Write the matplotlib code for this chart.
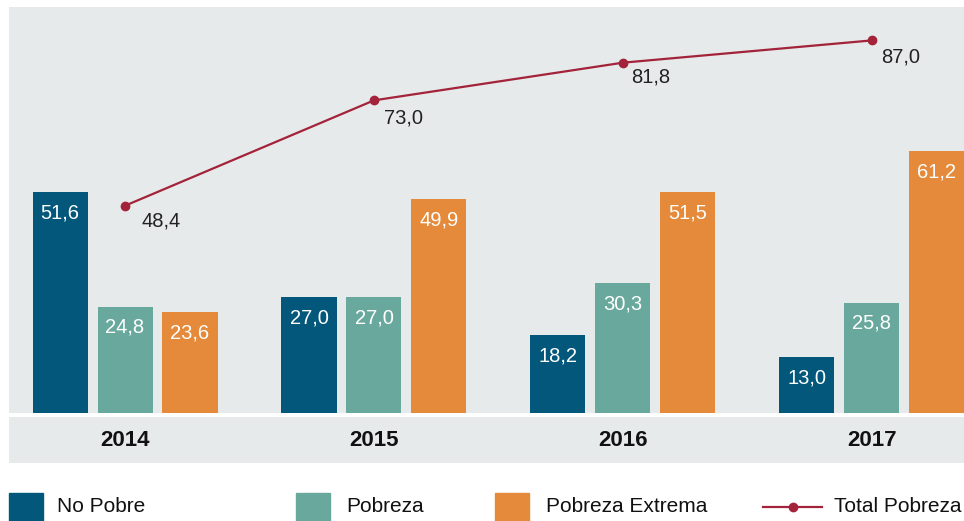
import numpy as np
import matplotlib.pyplot as plt
from matplotlib.patches import Rectangle
from matplotlib.lines import Line2D

plt.rcParams['font.family'] = ['Liberation Sans', 'DejaVu Sans']

years = ['2014', '2015', '2016', '2017']
no_pobre = [51.6, 27.0, 18.2, 13.0]
pobreza = [24.8, 27.0, 30.3, 25.8]
pobreza_extrema = [23.6, 49.9, 51.5, 61.2]
total_pobreza = [48.4, 73.0, 81.8, 87.0]

series_names = ['No Pobre', 'Pobreza', 'Pobreza Extrema', 'Total Pobreza']
bar_colors = ['#03577a', '#69a99d', '#e48a3a']
line_color = '#a3233a'
bg = '#e7eaeb'

def fmt(v):
    return f'{v:.1f}'.replace('.', ',')

fig = plt.figure(figsize=(9.64, 5.21), dpi=100)
ax = fig.add_axes([9 / 964, 108 / 521, 955 / 964, 406 / 521])
ax.set_facecolor(bg)

x = np.arange(len(years))
width = 0.221
step = 0.261
for i, (vals, col) in enumerate(zip([no_pobre, pobreza, pobreza_extrema], bar_colors)):
    pos = x + (i - 1) * step
    ax.bar(pos, vals, width=width, color=col, zorder=2)
    for px, v in zip(pos, vals):
        ax.annotate(fmt(v), (px, v), xytext=(0, -8), textcoords='offset points',
                    ha='center', va='top', color='white', fontsize=14.5, zorder=3)

ax.plot(x, total_pobreza, color=line_color, lw=1.6, marker='o', ms=6, zorder=4)
offsets = [(12, -11), (7, -13), (6, -10), (7, -12)]
for px, v, off in zip(x, total_pobreza, offsets):
    ax.annotate(fmt(v), (px, v), xytext=off, textcoords='offset points',
                ha='left', va='center', color='#222222', fontsize=14.5, zorder=5)

ax.set_xlim(-0.466, 3.37)
ax.set_ylim(0, 94.8)
ax.set_xticks([])
ax.set_yticks([])
for s in ax.spines.values():
    s.set_visible(False)

# category band under the bars
band = fig.add_axes([9 / 964, 58 / 521, 955 / 964, 46 / 521])
band.set_facecolor(bg)
band.set_xlim(ax.get_xlim())
band.set_ylim(0, 1)
for px, yr in zip(x, years):
    band.text(px, 0.5, yr, ha='center', va='center', fontsize=16,
              fontweight='bold', color='#111111')
band.set_xticks([])
band.set_yticks([])
for s in band.spines.values():
    s.set_visible(False)

# legend row
ly = 14 / 521
patch_x = [9, 296, 495]
text_x = [57, 346, 546]
for px, tx, name, col in zip(patch_x, text_x, series_names[:3], bar_colors):
    fig.add_artist(Rectangle((px / 964, -10 / 521), 34 / 964, 38 / 521,
                             transform=fig.transFigure, color=col))
    fig.text(tx / 964, ly, name, ha='left', va='center', fontsize=15, color='#111111')
fig.add_artist(Line2D([763 / 964, 822 / 964], [ly, ly], transform=fig.transFigure,
                      color=line_color, lw=1.6))
fig.add_artist(Line2D([793 / 964], [ly], transform=fig.transFigure,
                      color=line_color, marker='o', ms=6))
fig.text(834 / 964, ly, series_names[3], ha='left', va='center', fontsize=15, color='#111111')

fig.savefig('out.png', dpi=100)
